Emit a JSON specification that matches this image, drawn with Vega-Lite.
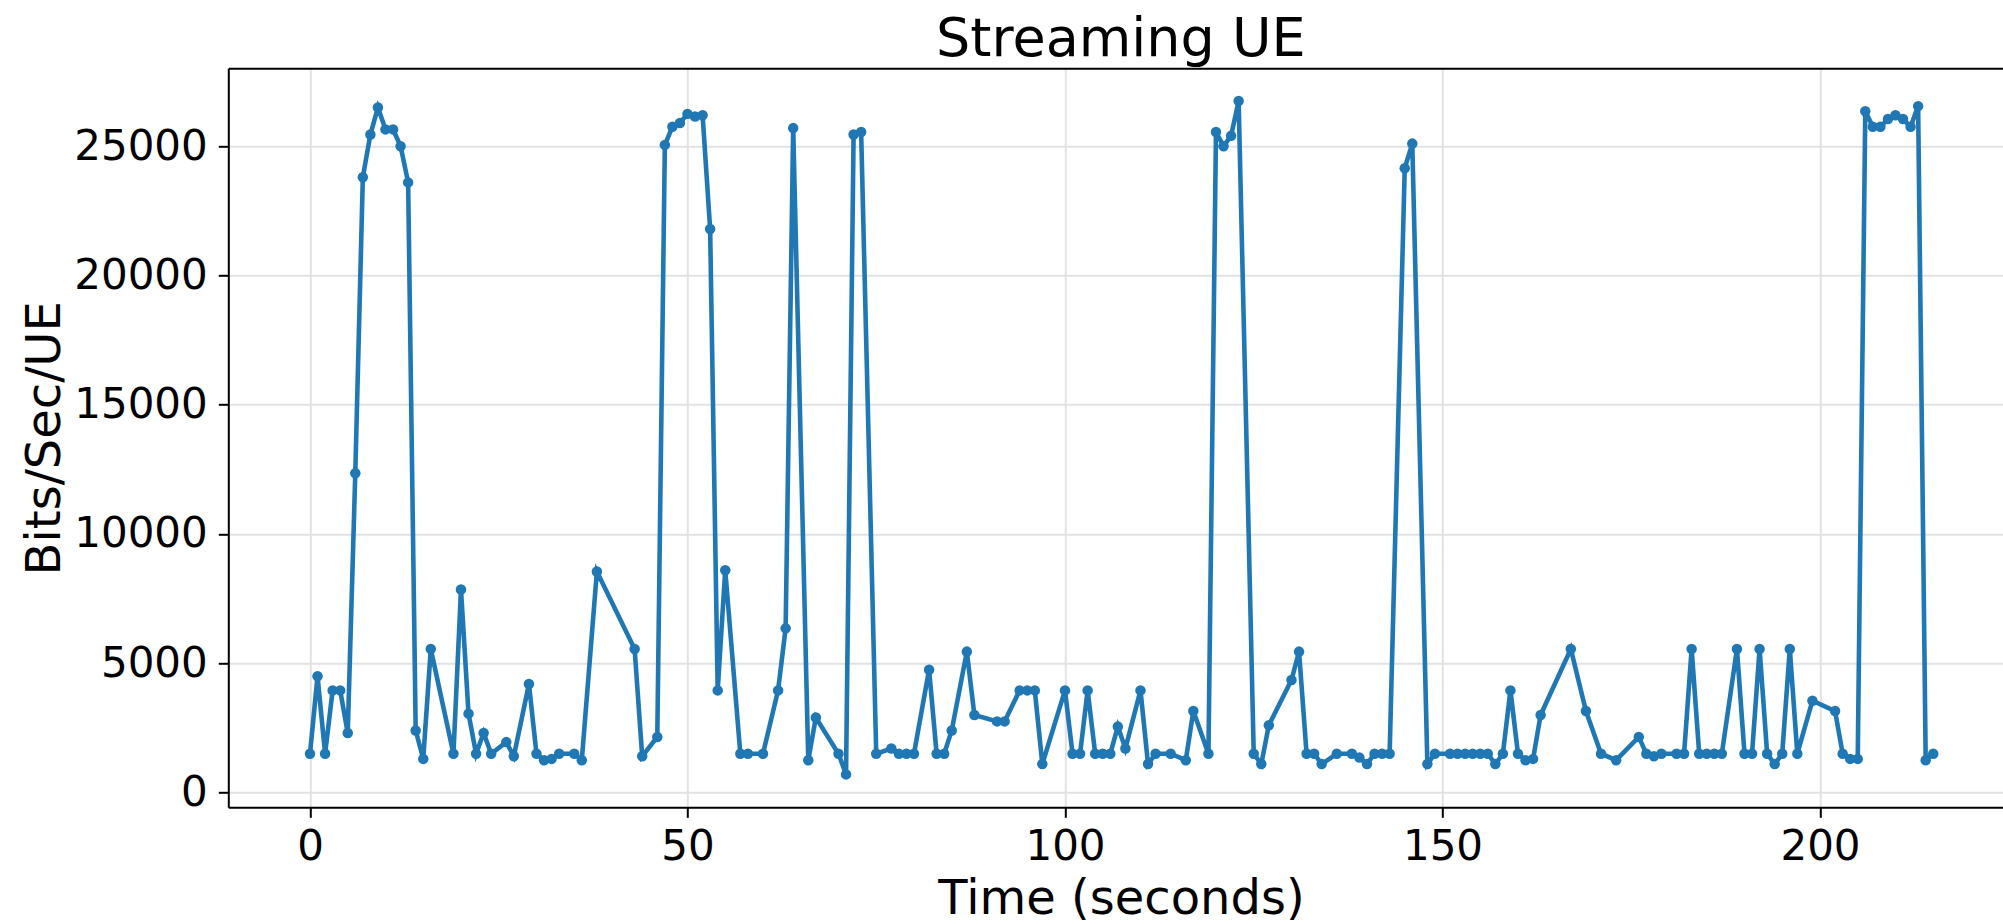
{
  "$schema": "https://vega.github.io/schema/vega-lite/v6.json",
  "width": 1775,
  "height": 739,
  "autosize": "none",
  "padding": {"left": 228.3, "top": 68.3, "right": 0, "bottom": 116.7},
  "background": "white",
  "title": {"text": "Streaming UE", "font": "DejaVu Sans", "fontSize": 54, "fontWeight": "normal", "color": "black", "anchor": "middle", "frame": "group", "dx": 5, "dy": 57, "baseline": "alphabetic", "offset": 15},
  "config": {"view": {"stroke": null}},
  "data": {"values": [
    {"t":0,"v":1500},{"t":1,"v":4500},{"t":2,"v":1500},{"t":3,"v":3950},{"t":4,"v":3950},{"t":5,"v":2300},{"t":6,"v":12350},{"t":7,"v":23800},{"t":8,"v":25450},{"t":9,"v":26500},{"t":10,"v":25650},{"t":11,"v":25650},{"t":12,"v":25000},{"t":13,"v":23600},{"t":14,"v":2400},{"t":15,"v":1300},{"t":16,"v":5550},{"t":19,"v":1500},{"t":20,"v":7850},{"t":21,"v":3050},{"t":22,"v":1500},{"t":23,"v":2300},{"t":24,"v":1500},{"t":26,"v":1950},{"t":27,"v":1400},{"t":29,"v":4200},{"t":30,"v":1500},{"t":31,"v":1250},{"t":32,"v":1300},{"t":33,"v":1500},{"t":35,"v":1500},{"t":36,"v":1250},{"t":38,"v":8550},{"t":43,"v":5550},{"t":44,"v":1400},{"t":46,"v":2150},{"t":47,"v":25050},{"t":48,"v":25750},{"t":49,"v":25900},{"t":50,"v":26250},{"t":51,"v":26150},{"t":52,"v":26200},{"t":53,"v":21800},{"t":54,"v":3950},{"t":55,"v":8600},{"t":57,"v":1500},{"t":58,"v":1500},{"t":60,"v":1500},{"t":62,"v":3950},{"t":63,"v":6350},{"t":64,"v":25700},{"t":66,"v":1250},{"t":67,"v":2900},{"t":70,"v":1500},{"t":71,"v":700},{"t":72,"v":25450},{"t":73,"v":25550},{"t":75,"v":1500},{"t":77,"v":1700},{"t":78,"v":1500},{"t":79,"v":1500},{"t":80,"v":1500},{"t":82,"v":4750},{"t":83,"v":1500},{"t":84,"v":1500},{"t":85,"v":2400},{"t":87,"v":5450},{"t":88,"v":3000},{"t":91,"v":2750},{"t":92,"v":2750},{"t":94,"v":3950},{"t":95,"v":3950},{"t":96,"v":3950},{"t":97,"v":1100},{"t":100,"v":3950},{"t":101,"v":1500},{"t":102,"v":1500},{"t":103,"v":3950},{"t":104,"v":1500},{"t":105,"v":1500},{"t":106,"v":1500},{"t":107,"v":2550},{"t":108,"v":1700},{"t":110,"v":3950},{"t":111,"v":1100},{"t":112,"v":1500},{"t":114,"v":1500},{"t":116,"v":1250},{"t":117,"v":3150},{"t":119,"v":1500},{"t":120,"v":25550},{"t":121,"v":25000},{"t":122,"v":25400},{"t":123,"v":26750},{"t":125,"v":1500},{"t":126,"v":1100},{"t":127,"v":2600},{"t":130,"v":4350},{"t":131,"v":5450},{"t":132,"v":1500},{"t":133,"v":1500},{"t":134,"v":1100},{"t":136,"v":1500},{"t":138,"v":1500},{"t":139,"v":1350},{"t":140,"v":1100},{"t":141,"v":1500},{"t":142,"v":1500},{"t":143,"v":1500},{"t":145,"v":24150},{"t":146,"v":25100},{"t":148,"v":1100},{"t":149,"v":1500},{"t":151,"v":1500},{"t":152,"v":1500},{"t":153,"v":1500},{"t":154,"v":1500},{"t":155,"v":1500},{"t":156,"v":1500},{"t":157,"v":1100},{"t":158,"v":1500},{"t":159,"v":3950},{"t":160,"v":1500},{"t":161,"v":1250},{"t":162,"v":1300},{"t":163,"v":3000},{"t":167,"v":5550},{"t":169,"v":3150},{"t":171,"v":1500},{"t":173,"v":1250},{"t":176,"v":2150},{"t":177,"v":1500},{"t":178,"v":1400},{"t":179,"v":1500},{"t":181,"v":1500},{"t":182,"v":1500},{"t":183,"v":5550},{"t":184,"v":1500},{"t":185,"v":1500},{"t":186,"v":1500},{"t":187,"v":1500},{"t":189,"v":5550},{"t":190,"v":1500},{"t":191,"v":1500},{"t":192,"v":5550},{"t":193,"v":1500},{"t":194,"v":1100},{"t":195,"v":1500},{"t":196,"v":5550},{"t":197,"v":1500},{"t":199,"v":3550},{"t":202,"v":3150},{"t":203,"v":1500},{"t":204,"v":1300},{"t":205,"v":1300},{"t":206,"v":26350},{"t":207,"v":25750},{"t":208,"v":25750},{"t":209,"v":26050},{"t":210,"v":26200},{"t":211,"v":26050},{"t":212,"v":25750},{"t":213,"v":26550},{"t":214,"v":1250},{"t":215,"v":1500}
  ]},
  "resolve": {"axis": {"x": "independent"}},
  "layer": [
    {
      "mark": {"type": "line", "color": "#1f77b4", "strokeWidth": 4.6},
      "encoding": {
        "x": {"field": "t", "type": "quantitative",
          "scale": {"domain": [-10.82, 224.28], "nice": false, "zero": false},
          "axis": {"values": [0, 50, 100, 150, 200], "labelFont": "DejaVu Sans", "labelFontSize": 42, "labelColor": "black", "labelPadding": 9,
            "tickSize": 10, "tickWidth": 2, "tickColor": "black", "domainColor": "black", "domainWidth": 2,
            "grid": true, "gridColor": "#e2e2e2", "gridWidth": 2,
            "title": "Time (seconds)", "titleFont": "DejaVu Sans", "titleFontSize": 48, "titleFontWeight": "normal", "titleColor": "black",
            "titleX": 892.7, "titleY": 106, "titleBaseline": "alphabetic", "titleAlign": "center"}},
        "y": {"field": "v", "type": "quantitative",
          "scale": {"domain": [-572, 28013], "nice": false, "zero": false},
          "axis": {"values": [0, 5000, 10000, 15000, 20000, 25000], "format": "d", "labelFont": "DejaVu Sans", "labelFontSize": 42, "labelColor": "black", "labelPadding": 11,
            "tickSize": 10, "tickWidth": 2, "tickColor": "black", "domainColor": "black", "domainWidth": 2,
            "grid": true, "gridColor": "#e2e2e2", "gridWidth": 2,
            "title": "Bits/Sec/UE", "titleFont": "DejaVu Sans", "titleFontSize": 48, "titleFontWeight": "normal", "titleColor": "black",
            "titleX": -169, "titleY": 369.5, "titleAngle": -90, "titleBaseline": "alphabetic", "titleAlign": "center"}}
      }
    },
    {
      "mark": {"type": "point", "filled": true, "color": "#1f77b4", "size": 110, "opacity": 1},
      "encoding": {
        "x": {"field": "t", "type": "quantitative",
          "axis": {"orient": "top", "labels": false, "ticks": false, "grid": false, "title": null, "domainColor": "black", "domainWidth": 2, "minExtent": 0, "maxExtent": 0}},
        "y": {"field": "v", "type": "quantitative"}
      }
    }
  ]
}
